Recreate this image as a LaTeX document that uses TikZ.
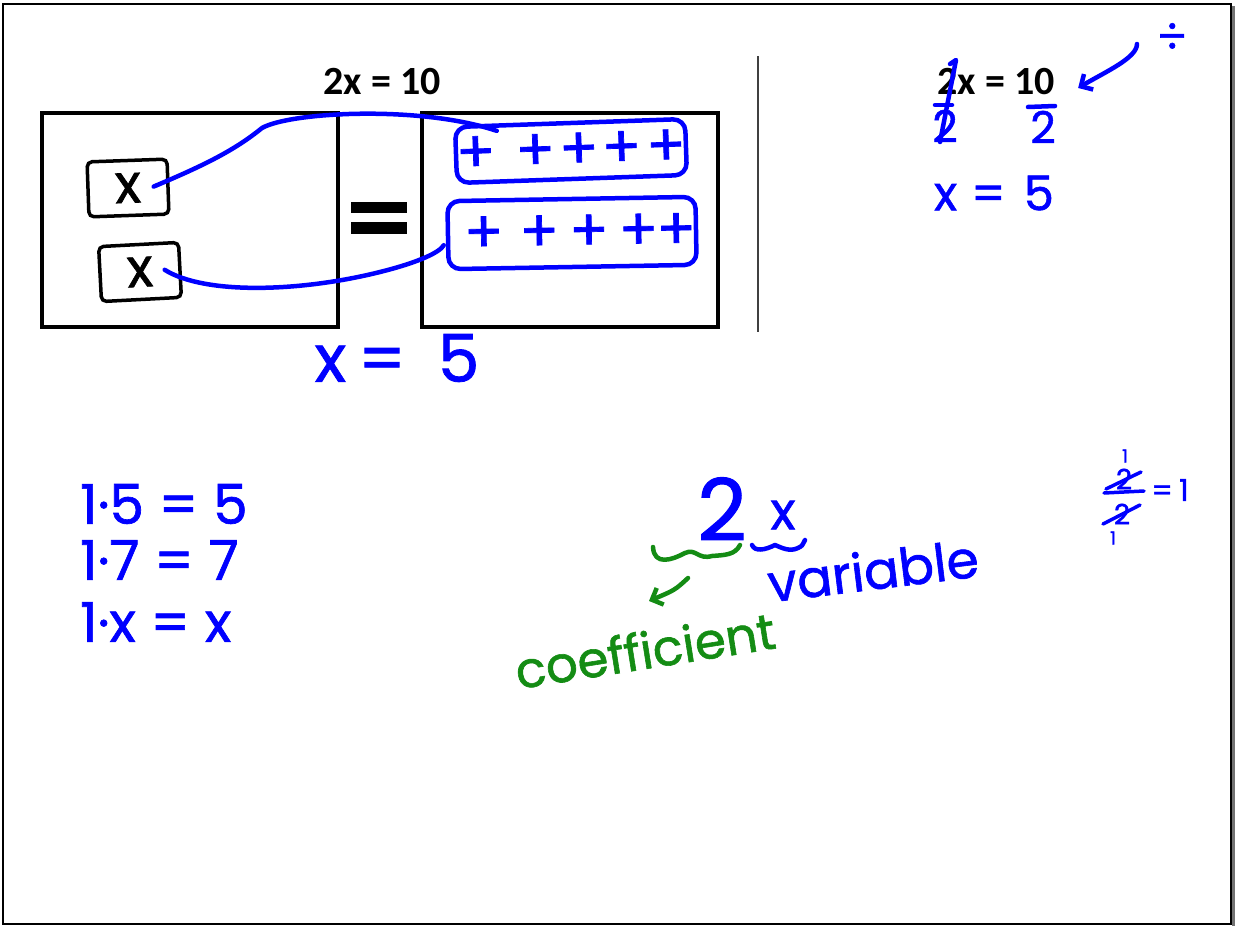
\documentclass[tikz,border=0pt]{standalone}
\usepackage{fontspec}
\newfontfamily\handfont[FakeBold=1.2]{Poppins}
\newfontfamily\slidefont{Carlito}
\usepackage{xcolor}
\definecolor{inkblue}{RGB}{0,0,255}
\definecolor{inkgreen}{RGB}{20,140,20}
\usepackage{tikz}
\usetikzlibrary{arrows.meta,calc}

\newcommand{\hw}[1]{\handfont\fontsize{#1}{#1}\selectfont}

\begin{document}
\begin{tikzpicture}[x=1pt,y=-1pt,>={Straight Barb[length=9pt,width=18pt]},
  ink/.style={draw=inkblue,line width=4.5pt,line cap=round,line join=round},
  greenink/.style={draw=inkgreen,line width=4.5pt,line cap=round,line join=round},
  blueword/.style={text=inkblue,inner sep=0pt},
  greenword/.style={text=inkgreen,inner sep=0pt},
  slidebox/.style={draw,line width=4pt,minimum width=296pt,minimum height=214pt},
  xbox/.style={draw,line width=3.5pt,rounded corners=5pt,minimum width=80pt,minimum height=55pt,font=\hw{54pt}},
  plusgroup/.style={draw=inkblue,line width=4.5pt,rounded corners=12pt,text=inkblue,inner sep=0pt,font=\hw{58pt}}]
  \useasboundingbox (0,0) rectangle (1235,926);
  \fill[black!55] (1232,6) rectangle (1235,926);
  \draw[line width=2pt] (3,4) rectangle (1231,924);

  % the slide
  \node[font=\slidefont\bfseries\fontsize{40pt}{40pt}\selectfont] (ltitle) at (382,82) {2x = 10};
  \node[font=\slidefont\bfseries\fontsize{40pt}{40pt}\selectfont] (rtitle) at (996,82) {2x = 10};
  \node[slidebox] (lbox) at (190,220) {};
  \node[slidebox] (rbox) at (570,220) {};
  \fill (351,202) rectangle (407,213);
  \fill (351,222) rectangle (407,234);
  \draw[line width=1.3pt,black!75] (758,56) -- (758,332);

  % x tiles and the two groups of five
  \node[xbox,rotate=2] (xa) at (128,188) {x};
  \node[xbox,rotate=3] (xb) at (140,272) {x};
  \node[plusgroup,minimum width=230pt,minimum height=56pt,rotate=2] (ga) at (571,151) {+\hspace{20pt}+\hspace{4pt}+\hspace{3pt}+\hspace{5pt}+};
  \node[plusgroup,minimum width=248pt,minimum height=68pt,rotate=1] (gb) at (572,233) {\hspace{16pt}+\hspace{16pt}+\hspace{10pt}+\hspace{10pt}+\hspace{-2pt}+};
  \draw[ink] ([xshift=-16pt]xa.east) .. controls (205,165) and (235,150) .. (262,128)
    .. controls (290,112) and (420,105) .. ($(ga.north west)+(44,6)$);
  \draw[ink] ([xshift=-17pt]xb.east) .. controls (205,295) and (300,292) .. (380,272)
    .. controls (420,262) and (440,252) .. ($(gb.west)+(-2,10)$);
  \node[blueword,font=\hw{66pt}] (xeq) at (397,358) {x\hspace{12pt}=\hspace{32pt}5};

  % dividing both sides
  \node[blueword,font=\hw{46pt}] (divs) at (1172,38) {÷};
  \coordinate (arrfrom) at (1137,44);
  \draw[ink,->] (arrfrom) .. controls (1137,58) and (1105,72) .. ($(rtitle.east)+(20,6)$);
  \node[blueword,font=\hw{44pt}] (dvl) at (945,126) {2};
  \node[blueword,font=\hw{44pt}] (dvr) at (1043,127) {2};
  \draw[ink] (935,105) -- (952,105);
  \draw[ink] (1028,107) -- (1055,106);
  \draw[ink] (950,64) -- (956,60) -- (940,142);
  \node[blueword,font=\hw{48pt}] (rxeq) at (994,193) {x\hspace{14pt}=\hspace{18pt}5};

  % multiplying by one
  \node[blueword,font=\hw{55pt},anchor=west] (ln1) at (80,504) {1·5 = 5};
  \node[blueword,font=\hw{55pt},anchor=west] (ln2) at (80,560) {1·7 = 7};
  \node[blueword,font=\hw{55pt},anchor=west] (ln3) at (80,622) {1·x = x};

  % coefficient and variable
  \node[blueword,font=\hw{86pt}] (two) at (722,509) {2};
  \node[blueword,font=\hw{52pt}] (var) at (783,515) {x};
  \draw[greenink] (653,547) .. controls (654,566) and (672,560) .. (685,553)
    .. controls (696,548) and (698,560) .. (712,556) .. controls (725,555) and (735,555) .. (740,545);
  \draw[ink] (752,545) .. controls (755,552) and (765,550) .. (775,545)
    .. controls (782,548) and (790,552) .. (798,548) .. controls (802,546) .. (805,540);
  \node[blueword,font=\hw{52pt},rotate=7] (varword) at (873,570) {variable};
  \node[greenword,font=\hw{50pt},rotate=9] (coef) at (645,650) {coefficient};
  \coordinate (gfrom) at (688,578);
  \coordinate (gto) at (649,601);
  \draw[greenink,->] (gfrom) .. controls (675,590) .. (gto);

  % two halves
  \node[blueword,font=\hw{18pt}] (oneup) at (1125,456) {1};
  \node[blueword,font=\hw{28pt}] (fa) at (1124,479) {2};
  \node[blueword,font=\hw{28pt}] (fb) at (1122,514) {2};
  \node[blueword,font=\hw{18pt}] (onedn) at (1113,538) {1};
  \node[blueword,font=\hw{30pt}] (fe) at (1170,490) {=\hspace{6pt}1};
  \draw[ink,line width=3.5pt] (1104,493) -- (1144,491);
  \draw[ink,line width=3.5pt] (1106,489) -- (1141,472);
  \draw[ink,line width=3.5pt] (1103,524) -- (1140,505);
\end{tikzpicture}
\end{document}
